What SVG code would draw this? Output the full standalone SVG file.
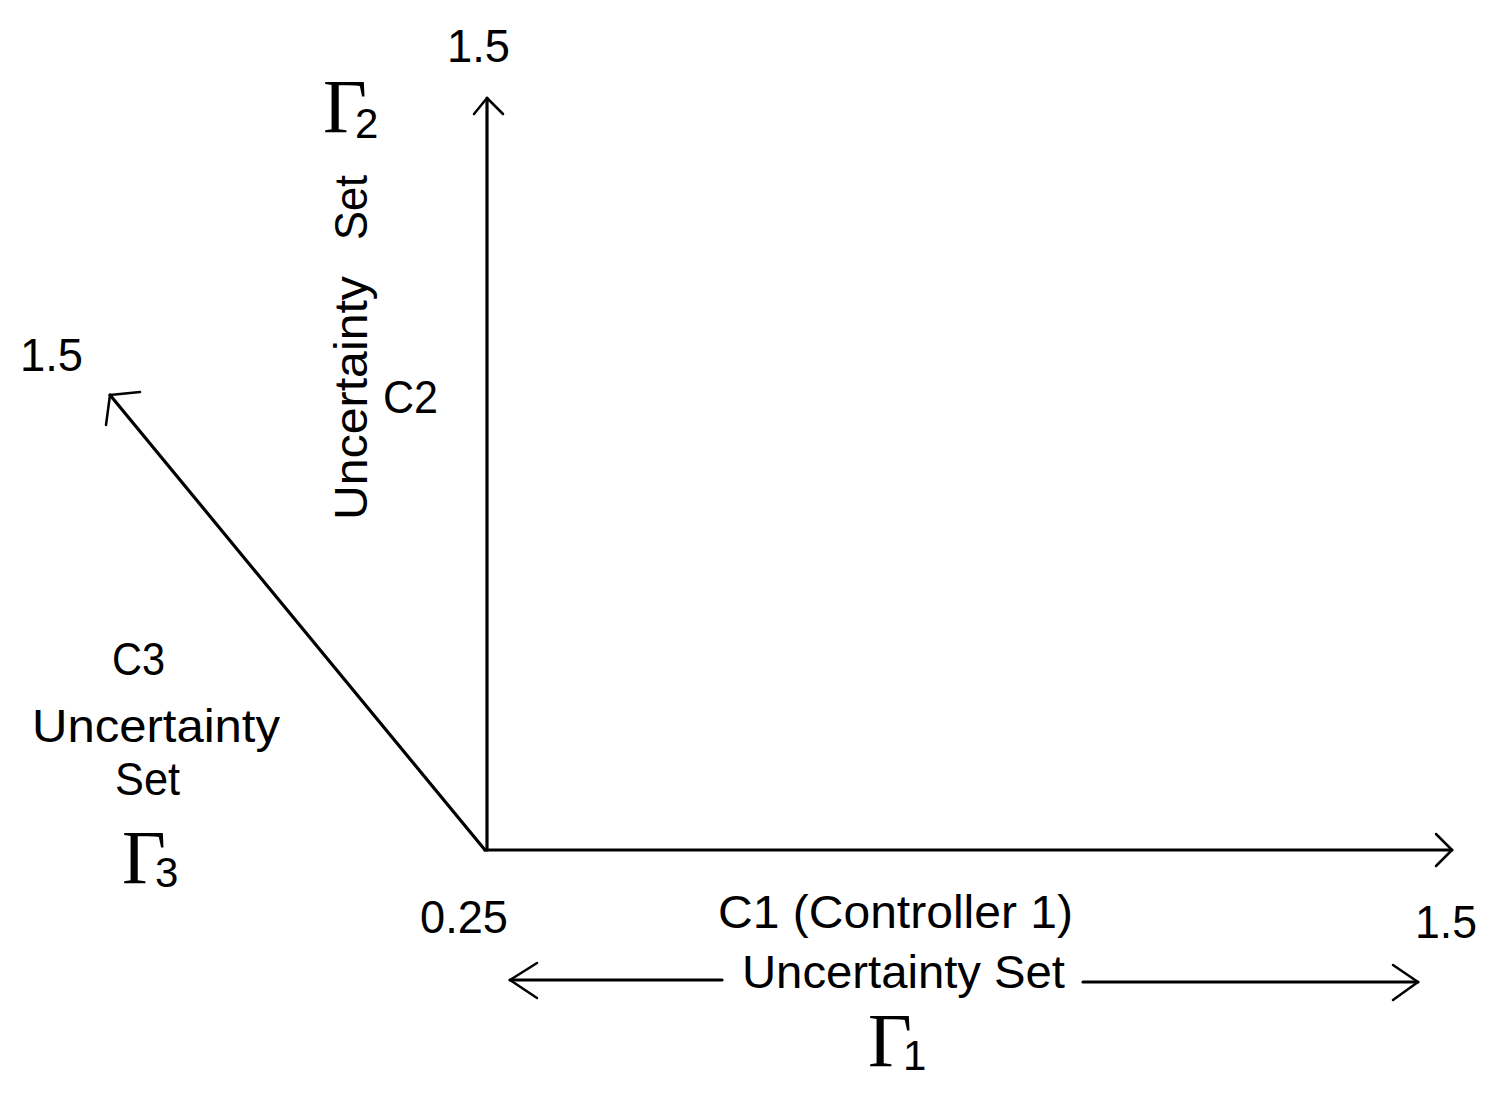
<svg xmlns="http://www.w3.org/2000/svg" width="1493" height="1104" viewBox="0 0 1493 1104">
<style>
.ln{stroke:#000;stroke-width:3.2;fill:none;stroke-linecap:round;stroke-linejoin:round}
.hd{stroke:#000;stroke-width:2.5;fill:none;stroke-linecap:round;stroke-linejoin:round}
.t{font-family:"Liberation Sans",Arial,sans-serif;font-size:46px;fill:#000}
.g{font-family:"Liberation Serif","Times New Roman",serif;font-size:76px;fill:#000}
.s{font-family:"Liberation Sans",Arial,sans-serif;font-size:42px}
</style>
<rect width="1493" height="1104" fill="#fff"/>
<g id="connectors">
<path class="ln" d="M487,850 L487,98"/>
<path class="hd" d="M474,114 L487,98 L503,114"/>
<path class="ln" d="M485,850 L1452,850"/>
<path class="hd" d="M1436,834 L1452,850 L1436,866"/>
<path class="ln" d="M485,850 L110,395"/>
<path class="hd" d="M140,392 L110,395 L106,425"/>
<path class="ln" d="M510,980 L722,980"/>
<path class="hd" d="M537,963 L510,980 L537,998"/>
<path class="ln" d="M1083,982 L1418,982"/>
<path class="hd" d="M1393,965 L1418,982 L1393,1000"/>
</g>
<g id="axis-c2">
<text class="t" x="447" y="62" textLength="63" lengthAdjust="spacingAndGlyphs">1.5</text>
<text class="g" x="323" y="132">Γ<tspan class="s" x="355" y="138">2</tspan></text>
<text class="t" transform="translate(367,520) rotate(-90)"><tspan x="0" y="0" textLength="244" lengthAdjust="spacingAndGlyphs">Uncertainty</tspan><tspan x="280" y="0" textLength="65" lengthAdjust="spacingAndGlyphs">Set</tspan></text>
<text class="t" x="383" y="413" textLength="55" lengthAdjust="spacingAndGlyphs">C2</text>
</g>
<g id="axis-c3">
<text class="t" x="20" y="371" textLength="63" lengthAdjust="spacingAndGlyphs">1.5</text>
<text class="t" x="112" y="675" textLength="53" lengthAdjust="spacingAndGlyphs">C3</text>
<text class="t" x="32" y="742" textLength="248" lengthAdjust="spacingAndGlyphs">Uncertainty</text>
<text class="t" x="115" y="795" textLength="65" lengthAdjust="spacingAndGlyphs">Set</text>
<text class="g" x="122" y="883">Γ<tspan class="s" x="155" y="887">3</tspan></text>
</g>
<g id="axis-c1">
<text class="t" x="420" y="933" textLength="88" lengthAdjust="spacingAndGlyphs">0.25</text>
<text class="t" x="718" y="928" textLength="355" lengthAdjust="spacingAndGlyphs">C1 (Controller 1)</text>
<text class="t" x="1415" y="938" textLength="62" lengthAdjust="spacingAndGlyphs">1.5</text>
<text class="t" x="742" y="988" textLength="323" lengthAdjust="spacingAndGlyphs">Uncertainty Set</text>
<text class="g" x="868" y="1066">Γ<tspan class="s" x="903" y="1070">1</tspan></text>
</g>
</svg>
